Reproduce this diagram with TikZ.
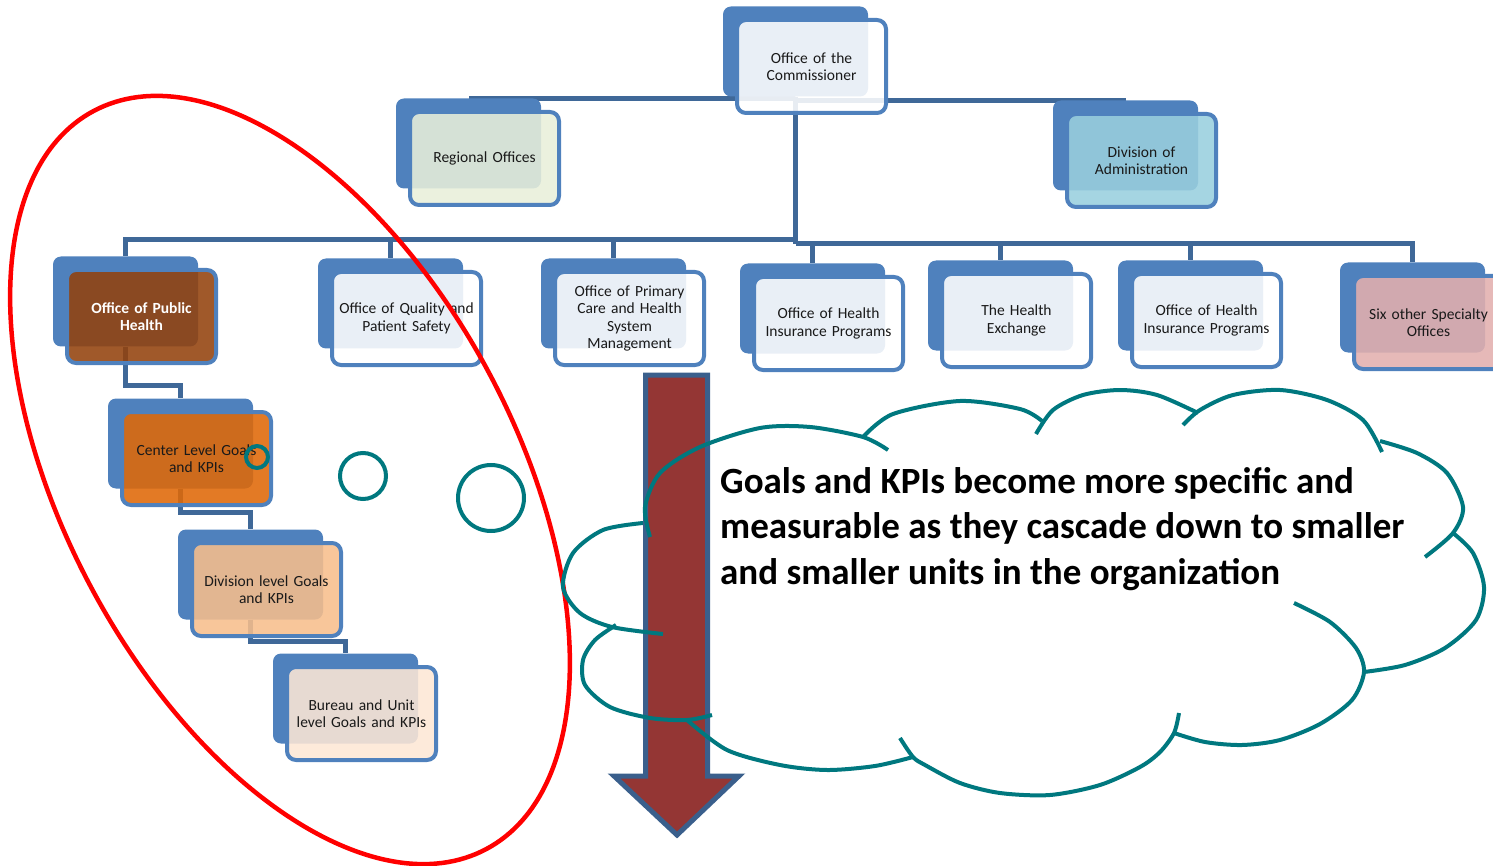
\documentclass[tikz,border=0pt]{standalone}
\usepackage{fontspec}
\setmainfont{Carlito}
\usetikzlibrary{calc,backgrounds}

\definecolor{boxblue}{HTML}{4F81BD}
\definecolor{linkblue}{HTML}{3F6898}
\definecolor{arrowred}{HTML}{943634}
\definecolor{arrowedge}{HTML}{3A5F8C}
\definecolor{cloudteal}{HTML}{00787F}
\definecolor{regfill}{HTML}{E8EFDA}
\definecolor{adminfill}{HTML}{99CFDE}
\definecolor{phfill}{HTML}{93420D}
\definecolor{centerfill}{HTML}{DF6807}
\definecolor{divfill}{HTML}{F7BE8C}
\definecolor{burfill}{HTML}{FDE7D5}
\definecolor{sixfill}{HTML}{E3AFAE}

\tikzset{
  backbox/.style={fill=boxblue, rounded corners=8pt, minimum width=145pt, minimum height=90pt, inner sep=0pt},
  frontbox/.style={draw=boxblue, line width=4pt, rounded corners=9pt, fill opacity=0.88, text opacity=1,
    minimum width=149pt, minimum height=93pt, text width=148pt, align=center, inner sep=0pt,
    font=\fontsize{15.5}{17.5}\selectfont, text=black!90},
  link/.style={draw=linkblue, line width=5pt},
  redring/.style={draw=red, line width=4.5pt},
  tealring/.style={draw=cloudteal, line width=4pt},
  cloudline/.style={draw=cloudteal, line width=4pt},
  bigarrow/.style={fill=arrowred, draw=arrowedge, line width=5pt, line join=miter},
  goaltext/.style={align=left, inner sep=0pt, font=\fontsize{37}{45.5}\selectfont\bfseries},
}

% name, centre of front box, options, text
\newcommand{\orgunit}[4]{%
  \node[backbox] (#1-b) at ($(#2)+(-16,-15)$) {};
  \node[frontbox, #3] (#1) at (#2) {#4};
}

\begin{document}
\begin{tikzpicture}[x=1pt,y=-1pt]
	\useasboundingbox (0,0) rectangle (1493,866);
	\clip (0,0) rectangle (1493,866);
	%	top level
	\orgunit{comm}{811.5,66.5}{fill=white}{Office of the\\Commissioner}
	\orgunit{reg}{484.5,158.5}{fill=regfill}{Regional Offices}
	\orgunit{admin}{1141.5,160.5}{fill=adminfill}{Division of\\Administration}
	%	offices
	\orgunit{ph}{141.5,316.5}{fill=phfill, text=white, font=\fontsize{15.5}{17.5}\selectfont\bfseries}{Office of Public\\Health}
	\orgunit{qual}{406.5,318.5}{fill=white}{Office of Quality and\\Patient Safety}
	\orgunit{prim}{629.5,318.5}{fill=white}{Office of Primary\\Care and Health\\System\\Management}
	\orgunit{hipa}{828.5,323.5}{fill=white}{Office of Health\\Insurance Programs}
	\orgunit{hex}{1016.5,320.5}{fill=white}{The Health\\Exchange}
	\orgunit{hipb}{1206.5,320.5}{fill=white}{Office of Health\\Insurance Programs}
	\orgunit{six}{1428.5,322.5}{fill=sixfill}{Six other Specialty\\Offices}
	%	cascade
	\orgunit{center}{196.5,458.5}{fill=centerfill}{Center Level Goals\\and KPIs}
	\orgunit{div}{266.5,589.5}{fill=divfill}{Division level Goals\\and KPIs}
	\orgunit{bur}{361.5,713.5}{fill=burfill}{Bureau and Unit\\level Goals and KPIs}

	\coordinate (busl) at (0,240);
	\coordinate (busr) at (0,244);
	\begin{scope}[on background layer]
		\draw[link] (comm-b) |- (reg-b.north);
		\draw[link] (comm-b) |- (admin-b.north);
		\draw[link] (comm-b) -- (comm-b |- busr);
		\foreach \u in {ph,qual,prim}
			\draw[link] (comm-b |- busl) -| (\u-b.north);
		\foreach \u in {hipa,hex,hipb,six}
			\draw[link] (comm-b |- busr) -| (\u-b.north);
		\draw[link] (ph-b) |- ([yshift=13pt]center-b.north) -- (center-b.north);
		\draw[link] (center-b) |- ([yshift=17pt]div-b.north) -- (div-b.north);
		\draw[link] (div-b) |- ([yshift=12pt]bur-b.north) -- (bur-b.north);
	\end{scope}

	\draw[redring, rotate around={-62:(290,480)}] (290,480) ellipse [x radius=418, y radius=226];
	\draw[tealring] (257,457) circle [radius=11];
	\draw[tealring] (363,476) circle [radius=23];
	\draw[tealring] (491,498) circle [radius=33];

	\draw[bigarrow] (645.5,375) -- (707.5,375) -- (707.5,776) -- (739,776) -- (677,835) -- (614,776) -- (645.5,776) -- cycle;

	%	cloud, one arc per puff
	\draw[cloudline] plot[smooth] coordinates {(650,537) (645,507) (660,473) (700,447) (760,428) (810,427) (863,437) (888,450)};
	\draw[cloudline] plot[smooth] coordinates {(863,437) (893,414) (960,401) (1020,409) (1042,421)};
	\draw[cloudline] plot[smooth] coordinates {(1036,434) (1053,410) (1083,395) (1120,390) (1157,395) (1198,413)};
	\draw[cloudline] plot[smooth] coordinates {(1183,425) (1200,410) (1233,395) (1280,390) (1327,400) (1363,420) (1382,452)};
	\draw[cloudline] plot[smooth] coordinates {(1380,441) (1417,453) (1447,473) (1463,507) (1453,533) (1425,557)};
	\draw[cloudline] plot[smooth] coordinates {(1453,533) (1473,553) (1484,587) (1476,620) (1445,648) (1405,665) (1364,672)};
	\draw[cloudline] plot[smooth] coordinates {(1294,603) (1330,622) (1356,648) (1364,672) (1352,700) (1320,724) (1280,740) (1242,745) (1205,742) (1174,733)};
	\draw[cloudline] plot[smooth] coordinates {(1179,713) (1174,733) (1160,752) (1140,767) (1100,785) (1050,795) (1000,793) (960,783) (925,765) (913,757) (900,738)};
	\draw[cloudline] plot[smooth] coordinates {(687,720) (727,750) (780,765) (827,770) (875,766) (913,757)};
	\draw[cloudline] plot[smooth] coordinates {(712,715) (687,720) (650,718) (610,707) (585,685) (583,660) (595,640) (616,625)};
	\draw[cloudline] plot[smooth] coordinates {(663,634) (612,627) (580,613) (563,587) (573,553) (603,530) (643,523)};

	\node[goaltext, anchor=west] (goal) at (720,529) {Goals and KPIs become more specific and\\measurable as they cascade down to smaller\\and smaller units in the organization};
\end{tikzpicture}
\end{document}
